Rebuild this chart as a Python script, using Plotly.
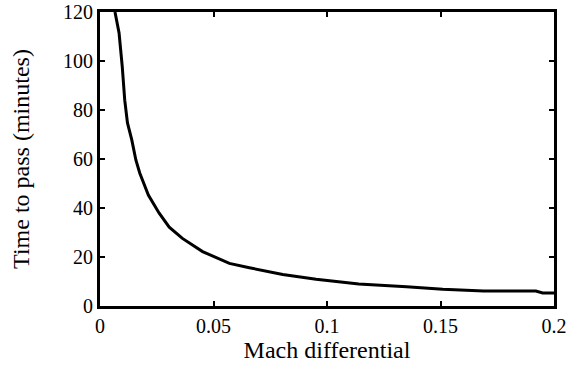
import plotly.graph_objects as go

mach_diff = [0.0066, 0.0084, 0.0098, 0.0109, 0.0121, 0.0140, 0.0158, 0.0175, 0.0213, 0.0260,
             0.0305, 0.0363, 0.0452, 0.0570, 0.0658, 0.0805, 0.0952, 0.1140, 0.1350, 0.1510,
             0.1690, 0.1920, 0.1950, 0.2000]
time_min = [120, 111.4, 97.7, 84.0, 74.7, 67.8, 59.6, 54.3, 45.3, 38.0,
            32.2, 27.6, 22.2, 17.4, 15.6, 12.9, 10.9, 9.0, 7.9, 6.8,
            6.1, 6.1, 5.3, 5.3]

x_ticks = [0, 0.05, 0.1, 0.15, 0.2]
x_labels = ["0", "0.05", "0.1", "0.15", "0.2"]
y_ticks = [0, 20, 40, 60, 80, 100, 120]

serif = "Liberation Serif, Times New Roman, serif"

fig = go.Figure(go.Scatter(
    x=mach_diff, y=time_min, mode="lines",
    line=dict(color="black", width=3), showlegend=False
))

axis_common = dict(
    showline=True, linecolor="black", linewidth=3, mirror="ticks",
    ticks="inside", ticklen=5, tickwidth=2, tickcolor="black",
    showgrid=False, zeroline=False, automargin=False,
    tickfont=dict(family=serif, size=20, color="black"),
)

fig.update_layout(
    width=581, height=374,
    margin=dict(l=100, r=27, t=12, b=68),
    plot_bgcolor="white", paper_bgcolor="white",
    font=dict(family=serif, size=20, color="black"),
    xaxis=dict(range=[0, 0.2], tickvals=x_ticks, ticktext=x_labels,
               title=dict(text="Mach differential", standoff=6), **axis_common),
    yaxis=dict(range=[0, 120], tickvals=y_ticks,
               title=dict(text="Time to pass (minutes)", standoff=27), **axis_common),
)

# page body has a default 8px margin; drop it so the figure sits at 0,0
fig.write_html("out.html", config={"displayModeBar": False},
               post_script="document.body.style.margin='0';")
